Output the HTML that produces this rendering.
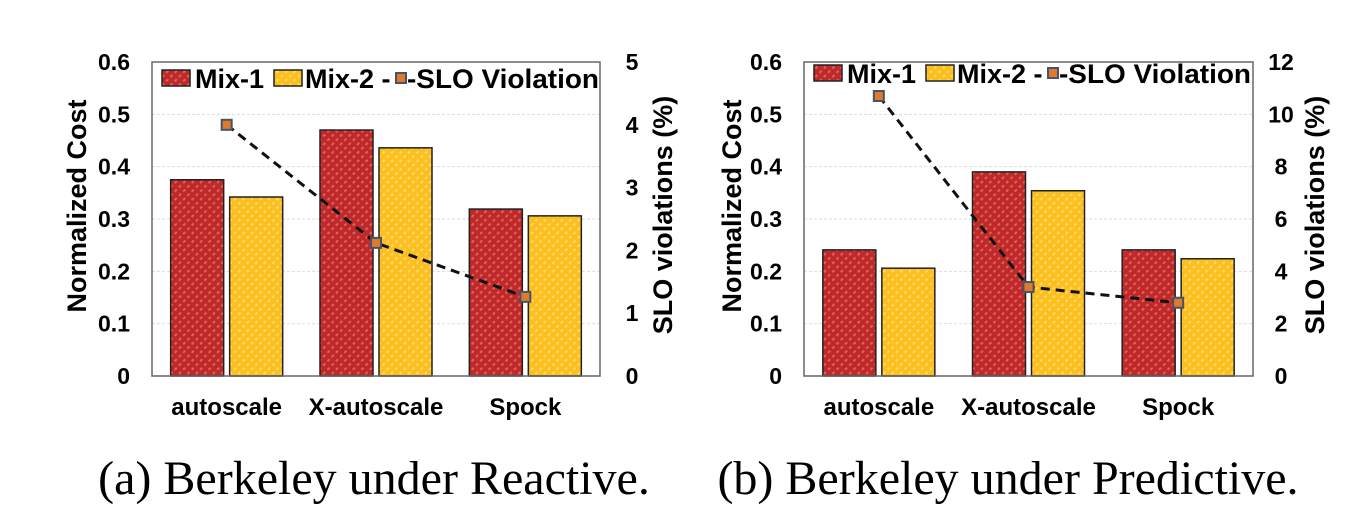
<!DOCTYPE html>
<html><head><meta charset="utf-8"><style>
body{margin:0;background:#fff;width:1356px;height:520px;overflow:hidden}
svg{display:block}
text{font-family:"Liberation Sans",sans-serif;font-weight:bold;fill:#000}
.cap{font-family:"Liberation Serif",serif;font-weight:normal;font-size:48px}
</style></head><body>
<svg id="s" width="1356" height="520">
<defs>
<pattern id="pr" width="6" height="6" patternUnits="userSpaceOnUse" patternTransform="rotate(-45)">
<rect width="6" height="6" fill="#c0282a"/><rect y="0" width="3" height="2" fill="#d9665a"/></pattern>
<pattern id="py" width="6" height="6" patternUnits="userSpaceOnUse" patternTransform="rotate(-45)">
<rect width="6" height="6" fill="#fcbf1e"/><rect y="0" width="3" height="2" fill="#fdd870"/></pattern>
</defs>
</svg>
<script>
const categories=["autoscale","X-autoscale","Spock"];
const mix1A=[0.375,0.470,0.319];
const mix2A=[0.342,0.436,0.306];
const sloA=[4.0,2.12,1.26];
const mix1B=[0.241,0.390,0.241];
const mix2B=[0.206,0.354,0.224];
const sloB=[10.7,3.4,2.8];
const leftTicks=[0,0.1,0.2,0.3,0.4,0.5,0.6];
const rightTicksA=[0,1,2,3,4,5];
const rightTicksB=[0,2,4,6,8,10,12];
const svg=document.getElementById('s');
const NS='http://www.w3.org/2000/svg';
function mk(tag,attrs,parent){const e=document.createElementNS(NS,tag);for(const k in attrs)e.setAttribute(k,attrs[k]);(parent||svg).appendChild(e);return e;}
function chart(o){
 const g=mk('g',{});
 
 
 const top=62,bot=376,x0=o.x0,x1=o.x1,gw=(x1-x0)/3;
 const y=v=>bot-(v/0.6)*(bot-top);
 const yr=v=>bot-(v/o.rmax)*(bot-top);
 leftTicks.forEach(t=>{
  if(t>0&&t<0.6){const l=mk('line',{x1:x0,x2:x1,y1:y(t),y2:y(t),stroke:'#ddd','stroke-dasharray':'3 2'},g);
  
  }
  const tx=mk('text',{x:x0-22,y:y(t)+8,'text-anchor':'end','font-size':23},g);tx.textContent=t===0?'0':t.toFixed(1);
  
  
 });
 o.rt.forEach(t=>{const tx=mk('text',{x:x1+o.rto,y:yr(t)+8,'text-anchor':'middle','font-size':23},g);tx.textContent=t;
  
  });
 categories.forEach((c,i)=>{
  const cx=x0+gw*(i+0.5);
  const b1=mk('rect',{x:cx-56,y:y(o.m1[i]),width:53,height:bot-y(o.m1[i]),fill:'url(#pr)',stroke:'#222','stroke-width':1.5},g);
  
  
  const b2=mk('rect',{x:cx+3,y:y(o.m2[i]),width:53,height:bot-y(o.m2[i]),fill:'url(#py)',stroke:'#222','stroke-width':1.5},g);
  
  
  const t=mk('text',{x:cx,y:415,'text-anchor':'middle','font-size':24},g);t.textContent=c;
  
  
 });
 const fr=mk('rect',{x:x0,y:top,width:x1-x0,height:bot-top,fill:'none',stroke:'#666','stroke-width':1.5},g);
 
 
 const pts=o.slo.map((v,i)=>(x0+gw*(i+0.5))+','+yr(v)).join(' ');
 const pl=mk('polyline',{points:pts,fill:'none',stroke:'#111','stroke-width':3,'stroke-dasharray':'9 6'},g);
 
 
 o.slo.forEach((v,i)=>{const cx=x0+gw*(i+0.5),cy=yr(v);
  const m=mk('rect',{x:cx-5,y:cy-5,width:10,height:10,fill:'#e07a2a',stroke:'#44546a','stroke-width':2},g);
  
  });
 const ly=o.ly;
 const l1=mk('rect',{x:x0+10,y:ly-8,width:28,height:16,fill:'url(#pr)',stroke:'#222','stroke-width':1.5},g);
 
 
 let t=mk('text',{x:x0+43,y:ly+10,'font-size':27},g);t.textContent='Mix-1';
 
 
 const l2=mk('rect',{x:x0+122,y:ly-8,width:28,height:16,fill:'url(#py)',stroke:'#222','stroke-width':1.5},g);
 
 
 t=mk('text',{x:x0+153,y:ly+10,'font-size':27},g);t.textContent='Mix-2 -';
 
 
 const lm=mk('rect',{x:x0+244,y:ly-5,width:10,height:10,fill:'#e07a2a',stroke:'#44546a','stroke-width':2},g);
 
 
 t=mk('text',{x:x0+255,y:ly+10,'font-size':27,textLength:192,lengthAdjust:'spacingAndGlyphs'},g);t.textContent='-SLO Violation';
 
 
 t=mk('text',{transform:`translate(${o.ltx},206) rotate(-90)`,'text-anchor':'middle','font-size':27},g);t.textContent='Normalized Cost';
 
 
 t=mk('text',{transform:`translate(${o.rtx},215) rotate(-90)`,'text-anchor':'middle','font-size':27},g);t.textContent='SLO violations (%)';
 
 
 t=mk('text',{x:o.capx,y:494,'text-anchor':'middle',class:'cap'},g);t.textContent=o.cap;
 
 
}
chart({name:'chart-reactive',x0:152,x1:600,m1:mix1A,m2:mix2A,slo:sloA,rmax:5,rt:rightTicksA,rto:32,ly:78,ltx:86,rtx:672,capx:374,cap:'(a) Berkeley under Reactive.'});
chart({name:'chart-predictive',x0:804,x1:1253,m1:mix1B,m2:mix2B,slo:sloB,rmax:12,rt:rightTicksB,rto:28,ly:73,ltx:741,rtx:1324,capx:1008,cap:'(b) Berkeley under Predictive.'});
</script>
</body></html>
